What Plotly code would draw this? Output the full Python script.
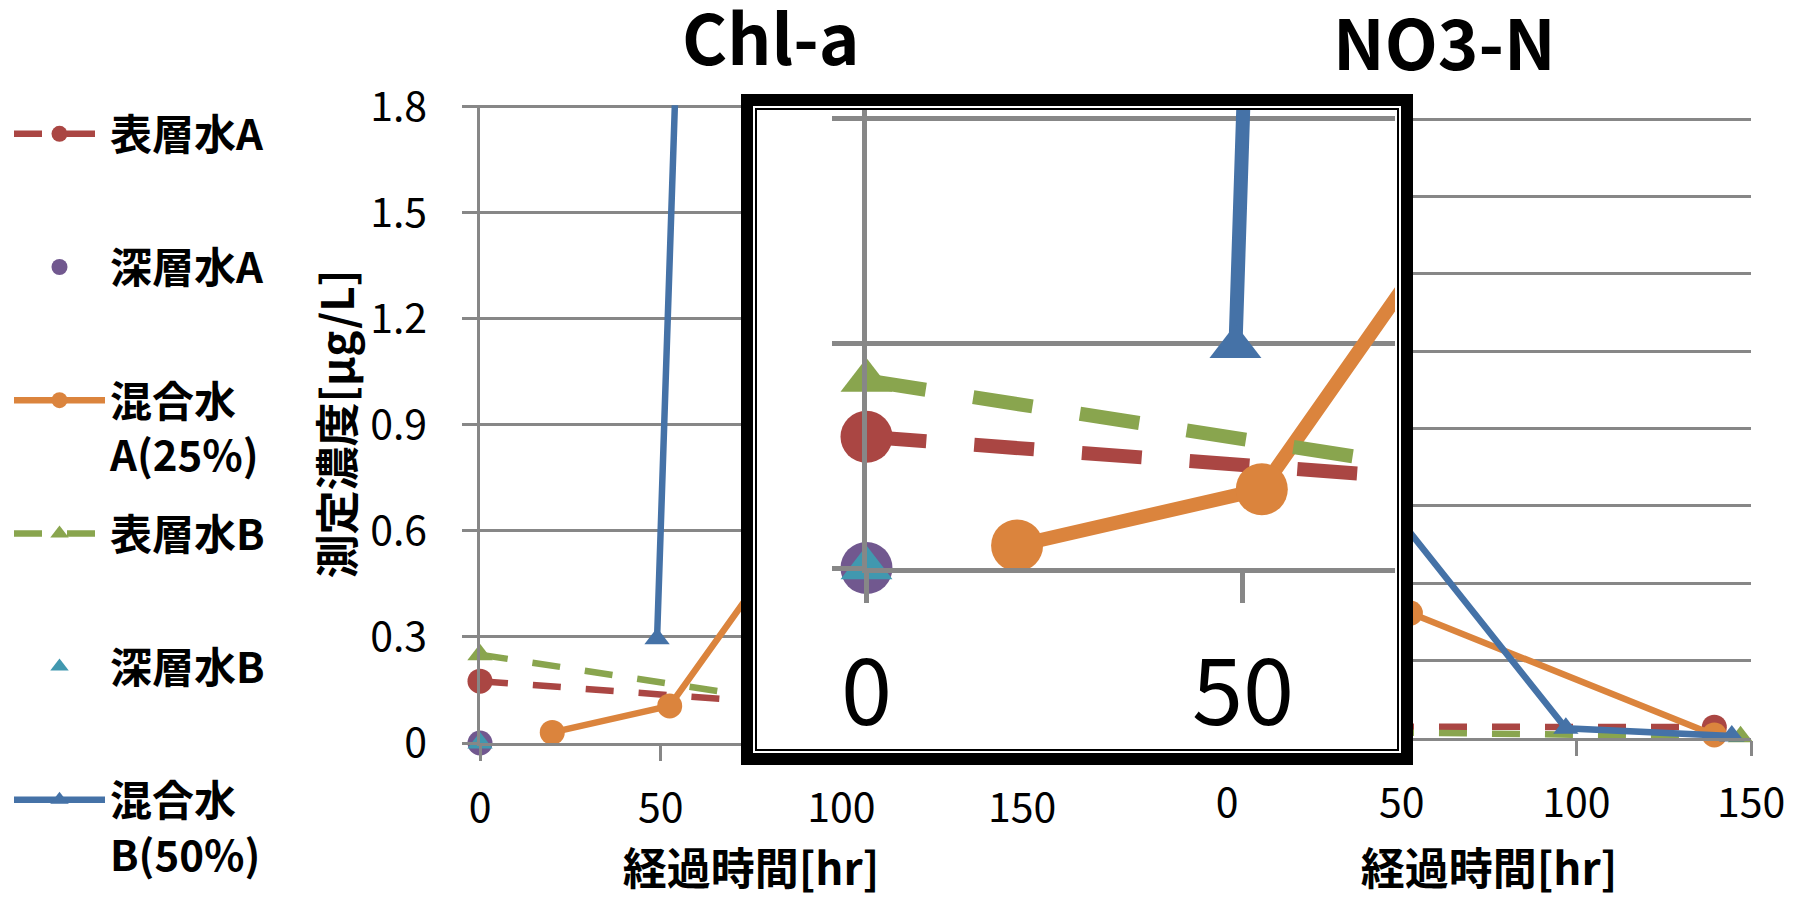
import plotly.graph_objects as go

W, H = 1803, 898
F = "Noto Sans CJK JP"


def px(x):
    return x / W


def py(y):
    return 1 - y / H


# ---------------- data ----------------
series_names = ["表層水A<br>\u00a0", "深層水A<br>\u00a0", "混合水<br>A(25%)",
                "表層水B<br>\u00a0", "深層水B<br>\u00a0", "混合水<br>B(50%)"]
series_colors = ["#AA4643", "#71588F", "#DB843D", "#89A54E", "#4198AF", "#4572A7"]

# Chl-a [μg/L]
chl_x_surface_A = [0, 139.5]
chl_y_surface_A = [0.175, 0.07]
chl_x_deep_A = [0]
chl_y_deep_A = [0.0]
chl_x_mix_A = [20, 52.5, 139.5]
chl_y_mix_A = [0.03, 0.105, 1.35]
chl_x_surface_B = [0, 147]
chl_y_surface_B = [0.25, 0.02]
chl_x_deep_B = [0]
chl_y_deep_B = [0.0]
chl_x_mix_B = [49, 97, 144.5]
chl_y_mix_B = [0.295, 15.0, 8.0]

# NO3-N
no3_x_surface_A = [0, 139.5]
no3_y_surface_A = [0.03, 0.028]
no3_x_deep_A = [0]
no3_y_deep_A = [0.6]
no3_x_mix_A = [20, 52.5, 139.5]
no3_y_mix_A = [0.25, 0.323, 0.008]
no3_x_surface_B = [0, 147]
no3_y_surface_B = [0.02, 0.003]
no3_x_deep_B = [0]
no3_y_deep_B = [0.45]
no3_x_mix_B = [49, 97, 144.5]
no3_y_mix_B = [0.57, 0.025, 0.005]

x_tick_vals = [0, 50, 100, 150]
inset_x_tick_vals = [0, 50]
chl_y_tick_vals = [0, 0.3, 0.6, 0.9, 1.2, 1.5, 1.8]
inset_y_tick_vals = [0, 0.3, 0.6]
no3_y_tick_vals = [0, 0.2, 0.4, 0.6, 0.8, 1.0, 1.2, 1.4, 1.6]

chl_data = [
    (chl_x_surface_A, chl_y_surface_A), (chl_x_deep_A, chl_y_deep_A), (chl_x_mix_A, chl_y_mix_A),
    (chl_x_surface_B, chl_y_surface_B), (chl_x_deep_B, chl_y_deep_B), (chl_x_mix_B, chl_y_mix_B),
]
no3_data = [
    (no3_x_surface_A, no3_y_surface_A), (no3_x_deep_A, no3_y_deep_A), (no3_x_mix_A, no3_y_mix_A),
    (no3_x_surface_B, no3_y_surface_B), (no3_x_deep_B, no3_y_deep_B), (no3_x_mix_B, no3_y_mix_B),
]

# style per series: mode, dashed?, symbol
series_style = [
    ("lines+markers", True, "circle"),
    ("markers", False, "circle"),
    ("lines+markers", False, "circle"),
    ("lines+markers", True, "triangle-up"),
    ("markers", False, "triangle-up"),
    ("lines+markers", False, "triangle-up"),
]

GRID = "#878787"

fig = go.Figure()


def add_panel(data, xa, ya, lw, dash, msize_c, msize_t, legend):
    for i, (xs, ys) in enumerate(data):
        mode, dashed, sym = series_style[i]
        ms = msize_c if sym == "circle" else msize_t
        fig.add_trace(go.Scatter(
            x=xs, y=ys, mode=mode, name=series_names[i],
            xaxis=xa, yaxis=ya,
            line=dict(color=series_colors[i], width=lw, dash=dash if dashed else "solid"),
            marker=dict(color=series_colors[i], size=ms, symbol=sym, line=dict(width=0)),
            cliponaxis=False,
            showlegend=legend, legendgroup="g%d" % i,
            hoverinfo="x+y",
        ))


# main Chl-a panel (legend from this one)
add_panel(chl_data, "x", "y", 6.5, "28px,25px", 25, 22, True)
# NO3-N panel
add_panel(no3_data, "x2", "y2", 6.5, "28px,25px", 25, 22, False)
# background holder for the magnifier box
fig.add_trace(go.Scatter(x=[None], y=[None], xaxis="x3", yaxis="y3", showlegend=False, hoverinfo="skip"))
# magnified view of Chl-a near origin
add_panel(chl_data, "x4", "y4", 14, "60px,48px", 52, 45, False)

tickfont = dict(family=F, size=41, color="black")
titlefont = dict(family=F, size=44, color="black", weight="bold")

common_x = dict(ticks="outside", ticklen=15, tickwidth=2.5, tickcolor=GRID,
                showline=True, linecolor=GRID, linewidth=2.5, showgrid=False,
                zeroline=False, tickfont=tickfont, ticklabelstandoff=12, automargin=False)
common_y = dict(ticks="outside", ticklen=15, tickwidth=2.5, tickcolor=GRID,
                showline=True, linecolor=GRID, linewidth=2.5, showgrid=True,
                gridcolor=GRID, gridwidth=2.5, zeroline=False, tickfont=tickfont,
                ticklabelstandoff=27, automargin=False)

fig.update_layout(
    width=W, height=H, autosize=False,
    margin=dict(l=0, r=0, t=0, b=0, pad=0, autoexpand=False),
    paper_bgcolor="white", plot_bgcolor="white",
    font=dict(family=F, color="black"),
    xaxis=dict(domain=[px(480), px(1022)], range=[0, 150], tickvals=x_tick_vals,
               anchor="y", title=dict(text="経過時間[hr]", font=titlefont, standoff=49),
               **common_x),
    yaxis=dict(domain=[py(743), py(105.2)], range=[0, 1.805], tickvals=chl_y_tick_vals,
               anchor="x", title=dict(text="測定濃度[μg/L]", font=titlefont, standoff=2),
               **common_y),
    xaxis2=dict(domain=[px(1227), px(1751)], range=[0, 150], tickvals=x_tick_vals,
                anchor="y2", title=dict(text="経過時間[hr]", font=titlefont, standoff=49),
                **common_x),
    yaxis2=dict(domain=[py(738), py(117.5)], range=[0, 1.604], tickvals=no3_y_tick_vals,
                anchor="x2", **common_y),
    xaxis3=dict(domain=[px(741), px(1413)], range=[0, 1], visible=False, anchor="y3",
                automargin=False),
    yaxis3=dict(domain=[py(765), py(94)], range=[0, 1], visible=False, anchor="x3",
                automargin=False),
    xaxis4=dict(domain=[px(866.5), px(1395)], range=[0, 70.19], tickvals=inset_x_tick_vals,
                anchor="y4", ticks="outside", ticklen=30, tickwidth=5, tickcolor=GRID,
                showline=True, linecolor=GRID, linewidth=5, showgrid=False, zeroline=False,
                tickfont=dict(family=F, size=92, color="black"), ticklabelstandoff=12,
                automargin=False),
    yaxis4=dict(domain=[py(568), py(110)], range=[0, 0.6107], tickvals=inset_y_tick_vals,
                anchor="x4", ticks="outside", ticklen=30, tickwidth=5, tickcolor=GRID,
                showline=True, linecolor=GRID, linewidth=5, showgrid=True, gridcolor=GRID,
                gridwidth=5, zeroline=False, showticklabels=False, automargin=False),
    legend=dict(x=px(9), y=py(100), xanchor="left", yanchor="top",
                font=dict(family=F, size=42, color="black", weight="bold"),
                tracegroupgap=21, itemwidth=91, valign="top", maxheight=2000,
                bgcolor="rgba(0,0,0,0)", itemsizing="trace"),
    showlegend=True,
)

fig.add_shape(type="rect", xref="x3", yref="y3", x0=0, x1=1, y0=0, y1=1,
              fillcolor="white", line=dict(width=0), layer="below")
fig.add_shape(type="rect", xref="paper", yref="paper",
              x0=px(747), x1=px(1407), y0=py(759), y1=py(100),
              line=dict(color="black", width=12), fillcolor="rgba(0,0,0,0)", layer="above")
fig.add_shape(type="rect", xref="paper", yref="paper",
              x0=px(756), x1=px(1398), y0=py(750), y1=py(109),
              line=dict(color="black", width=2), fillcolor="rgba(0,0,0,0)", layer="above")

fig.add_annotation(text="Chl-a", x=px(770), y=py(35), xref="paper", yref="paper",
                   xanchor="center", yanchor="middle",
                   showarrow=False, font=dict(family=F, size=69, color="black", weight="bold"))
fig.add_annotation(text="NO3-N", x=px(1444), y=py(40), xref="paper", yref="paper",
                   xanchor="center", yanchor="middle",
                   showarrow=False, font=dict(family=F, size=69, color="black", weight="bold"))

fig.write_html("out.html")
